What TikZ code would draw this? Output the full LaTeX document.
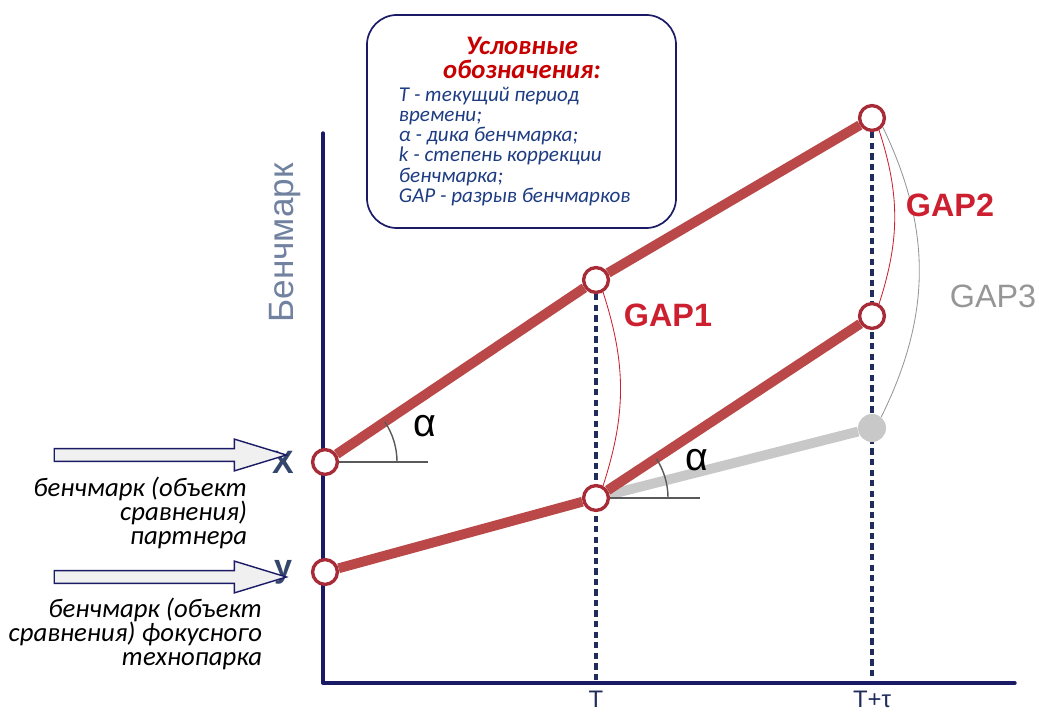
\documentclass[tikz,border=0pt]{standalone}
\usepackage{fontspec}
\setmainfont{Carlito}
\newfontfamily\arialfont{Liberation Sans}
\usepackage{tikz}
\usetikzlibrary{shapes.arrows,backgrounds}

\definecolor{bmred}{RGB}{186,72,72}
\definecolor{ptred}{RGB}{168,44,56}
\definecolor{gapred}{RGB}{204,32,48}
\definecolor{navy}{RGB}{26,26,102}
\definecolor{dashnavy}{RGB}{32,44,92}
\definecolor{lgray}{RGB}{200,200,200}
\definecolor{mgray}{RGB}{150,150,150}
\definecolor{xyblue}{RGB}{52,70,108}
\definecolor{axlbl}{RGB}{112,130,160}
\definecolor{legblue}{RGB}{30,60,130}
\definecolor{legred}{RGB}{200,0,0}

\begin{document}
\begin{tikzpicture}[
  x=0.025cm,y=0.025cm,
  pt/.style={circle,draw=ptred,line width=2.4pt,fill=white,minimum size=0.62cm,inner sep=0pt},
  ptgray/.style={circle,fill=lgray,minimum size=0.7cm,inner sep=0pt},
  bmline/.style={draw=bmred,line width=7pt},
  grline/.style={draw=lgray,line width=7pt},
  vdash/.style={draw=dashnavy,line width=2.6pt,dash pattern=on 4.5pt off 3pt},
  axis/.style={draw=navy,line width=2.4pt,line cap=round,line join=round},
  angl/.style={draw=black!65,line width=1pt},
  gap/.style={draw=gapred,line width=0.6pt},
  gapg/.style={draw=mgray,line width=0.6pt},
  gaplbl/.style={font=\arialfont\bfseries\fontsize{23}{23}\selectfont,text=gapred},
  alpha/.style={font=\arialfont\fontsize{28}{28}\selectfont,text=black},
  xylbl/.style={font=\arialfont\bfseries\fontsize{23}{23}\selectfont,text=xyblue},
  tlbl/.style={font=\arialfont\fontsize{17}{17}\selectfont,text=dashnavy},
  blockarr/.style={single arrow,draw=navy,fill=black!6,line width=1pt,inner sep=0pt,
                   inner ysep=0.14cm,minimum height=5.8cm,single arrow head extend=0.24cm,
                   single arrow tip angle=34},
  note/.style={font=\itshape\fontsize{19}{17}\selectfont,align=right,anchor=east},
  legbox/.style={draw=navy,line width=1.2pt,rounded corners=0.75cm,fill=white,
                 minimum width=7.725cm,minimum height=5.325cm}
]
\useasboundingbox (0,0) rectangle (1039,713);
% ---------- axes ----------
\coordinate (o) at (323,30);
\coordinate (ytop) at (323,580);
\coordinate (xend) at (1015,30);
\coordinate (tx) at (596,30);
\coordinate (mx) at (872,30);
\draw[axis] (ytop) -- (o) -- (xend);
\node[font=\arialfont\fontsize{25}{25}\selectfont,text=axlbl,rotate=90] (axl) at (285,470) {Бенчмарк};
\node[tlbl] (tl) at (596,14) {T};
\node[tlbl] (ttl) at (872,14) {T+τ};
% ---------- benchmark points ----------
\node[pt] (xa) at (325,251) {};
\node[pt] (ya) at (325,141) {};
\node[pt] (ta) at (596,433) {};
\node[pt] (tb) at (596,215) {};
\node[pt] (ma) at (872,595) {};
\node[pt] (mb) at (872,397) {};
\node[ptgray] (gp) at (872,285) {};
\coordinate (xh) at (428,251);
\coordinate (th) at (700,215);
\begin{scope}[on background layer]
\draw[vdash] (ta) -- (tx);
\draw[vdash] (ma) -- (mx);
\draw[grline] (tb) -- (gp);
\draw[angl] (xa.center) -- (xh);
\draw[angl] (tb.center) -- (th);
\end{scope}
\draw[bmline] (xa) -- (ta);
\draw[bmline] (ta) -- (ma);
\draw[bmline] (ya) -- (tb);
\draw[bmline] (tb) -- (mb);
% ---------- angles ----------
\draw[angl] ([xshift=1.8cm]xa.center) arc[start angle=0,end angle=34,radius=1.8cm];
\draw[angl] ([xshift=1.8cm]tb.center) arc[start angle=0,end angle=33,radius=1.8cm];
\node[alpha] (al1) at (425,287) {α};
\node[alpha] (al2) at (697,253) {α};
% ---------- gaps ----------
\draw[gap] (ta.-60) to[bend left=18] (tb.60);
\draw[gap] (ma.-60) to[bend left=18] (mb.60);
\draw[gapg] (ma.-40) to[bend left=26] (gp.50);
\node[gaplbl] (g1) at (668,398) {GAP1};
\node[gaplbl] (g2) at (950,508) {GAP2};
\node[gaplbl,text=mgray,font=\arialfont\fontsize{23}{23}\selectfont] (g3) at (993,417) {GAP3};
% ---------- partner / focus ----------
\node[xylbl] (xl) at (283,251) {X};
\node[xylbl] (yl) at (283,141) {y};
\node[blockarr] (arx) at (160,258) {};
\node[blockarr] (ary) at (160,136) {};
\node[note] (nx) at (252,200) {бенчмарк (объект\\сравнения)\\партнера};
\node[note] (ny) at (267,79) {бенчмарк (объект\\сравнения) фокусного\\технопарка};
% ---------- legend ----------
\node[legbox] (leg) at (521.5,591.5) {};
\node[font=\bfseries\itshape\fontsize{19}{17}\selectfont,text=legred,align=center] (legt) at (522,655)
  {Условные\\обозначения:};
\node[font=\itshape\fontsize{15}{14.4}\selectfont,text=legblue,align=left,anchor=north west] (legb) at (394,631)
  {Т - текущий период\\времени;\\α - дика бенчмарка;\\k - степень коррекции\\бенчмарка;\\GAP - разрыв бенчмарков};
\end{tikzpicture}
\end{document}
